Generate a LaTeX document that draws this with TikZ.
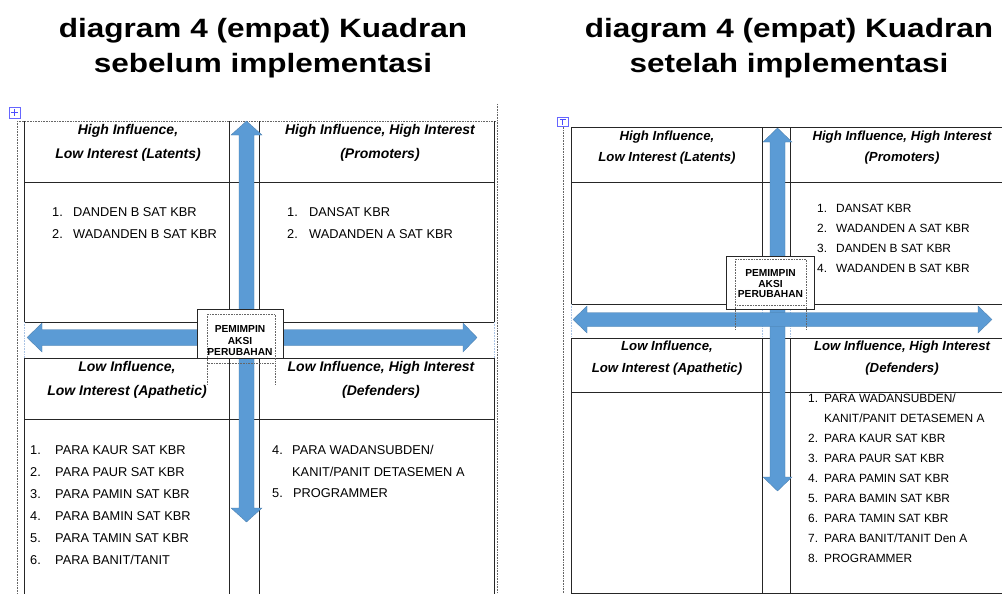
\documentclass[tikz,border=0pt]{standalone}
\usepackage{fontspec}
\setmainfont{Liberation Sans}
\definecolor{arrblue}{RGB}{91,155,213}
\definecolor{gridblue}{RGB}{170,195,228}

\begin{document}
\begin{tikzpicture}[x=1pt,y=-1pt,
    ttl/.style={anchor=base,inner sep=0pt,font=\fontsize{26.5}{30}\selectfont\bfseries},
    hdr/.style={anchor=base,inner sep=0pt,font=\fontsize{14}{16}\selectfont\bfseries\itshape},
    hdrs/.style={anchor=base,inner sep=0pt,font=\fontsize{13.2}{15}\selectfont\bfseries\itshape},
    lst/.style={anchor=base west,inner sep=0pt,font=\fontsize{12.8}{14}\selectfont},
    lsts/.style={anchor=base west,inner sep=0pt,font=\fontsize{11.9}{13}\selectfont},
    ctr/.style={align=center,inner sep=0pt,font=\fontsize{10.2}{11.5}\selectfont\bfseries},
    tbl/.style={line width=1pt,black!85},
    guide/.style={line width=0.7pt,black!60,dash pattern=on 0.7pt off 0.9pt},
    faint/.style={line width=0.7pt,gridblue,dash pattern=on 0.7pt off 0.9pt},
    blk/.style={fill=arrblue,draw=arrblue!80!black,line width=0.3pt}]

  \useasboundingbox (0,0) rectangle (1002,594);
  \fill[white] (0,0) rectangle (1002,594);

  % titles
  \node[ttl] (ttlA1) at (263,38) {\scalebox{1.19}[1]{diagram 4 (empat) Kuadran}};
  \node[ttl] (ttlA2) at (263,73) {\scalebox{1.19}[1]{sebelum implementasi}};
  \node[ttl] (ttlB1) at (789,38) {\scalebox{1.19}[1]{diagram 4 (empat) Kuadran}};
  \node[ttl] (ttlB2) at (789,73) {\scalebox{1.19}[1]{setelah implementasi}};

  % left table: sebelum
  \draw[guide] (17,121) -- (17,594);
  \draw[guide] (497,104) -- (497,594);
  \draw[guide] (17,121) -- (497,121);
  \draw[draw=blue!60,fill=white,line width=0.5pt] (9,107) rectangle (20,118);
  \draw[blue!70,line width=0.6pt] (11,112.5) -- (18,112.5);
  \draw[blue!70,line width=0.6pt] (14.5,109) -- (14.5,116);

  \draw[tbl] (24,121) -- (24,322);
  \draw[tbl] (229,121) -- (229,322);
  \draw[tbl] (259,121) -- (259,322);
  \draw[tbl] (494,121) -- (494,322);
  \draw[tbl] (24,182) -- (494,182);
  \draw[tbl] (24,322) -- (494,322);
  \draw[faint] (24,322) -- (24,358);
  \draw[faint] (494,322) -- (494,358);

  \draw[tbl] (24,358) -- (494,358);
  \draw[tbl] (24,419) -- (494,419);
  \draw[tbl] (24,358) -- (24,594);
  \draw[tbl] (229,358) -- (229,594);
  \draw[tbl] (259,358) -- (259,594);
  \draw[tbl] (494,358) -- (494,594);

  \node[hdr] (hA1) at (128,134) {High Influence,};
  \node[hdr] (hA2) at (128,158) {Low Interest (Latents)};
  \node[hdr] (hA3) at (380,134) {High Influence, High Interest};
  \node[hdr] (hA4) at (380,158) {(Promoters)};
  \node[hdr] (hA5) at (127,371) {Low Influence,};
  \node[hdr] (hA6) at (127,395) {Low Interest (Apathetic)};
  \node[hdr] (hA7) at (381,371) {Low Influence, High Interest};
  \node[hdr] (hA8) at (381,395) {(Defenders)};

  \node[lst] (nA1) at (52,216) {1.};
  \node[lst] (tA1) at (73,216) {DANDEN B SAT KBR};
  \node[lst] (nA2) at (52,238) {2.};
  \node[lst] (tA2) at (73,238) {WADANDEN B SAT KBR};

  \node[lst] (nB1) at (287,216) {1.};
  \node[lst] (tB1) at (309,216) {DANSAT KBR};
  \node[lst] (nB2) at (287,238) {2.};
  \node[lst] (tB2) at (309,238) {WADANDEN A SAT KBR};

  \node[lst] (nC1) at (30,454) {1.};
  \node[lst] (tC1) at (55,454) {PARA KAUR SAT KBR};
  \node[lst] (nC2) at (30,476) {2.};
  \node[lst] (tC2) at (55,476) {PARA PAUR SAT KBR};
  \node[lst] (nC3) at (30,498) {3.};
  \node[lst] (tC3) at (55,498) {PARA PAMIN SAT KBR};
  \node[lst] (nC4) at (30,520) {4.};
  \node[lst] (tC4) at (55,520) {PARA BAMIN SAT KBR};
  \node[lst] (nC5) at (30,542) {5.};
  \node[lst] (tC5) at (55,542) {PARA TAMIN SAT KBR};
  \node[lst] (nC6) at (30,564) {6.};
  \node[lst] (tC6) at (55,564) {PARA BANIT/TANIT};

  \node[lst] (nD1) at (272,454) {4.};
  \node[lst] (tD1) at (292,454) {PARA WADANSUBDEN/};
  \node[lst] (tD2) at (292,476) {KANIT/PANIT DETASEMEN A};
  \node[lst] (nD3) at (272,497) {5.};
  \node[lst] (tD3) at (293,497) {PROGRAMMER};

  % left arrows
  \draw[blk] (27,337.5) -- (42,323) -- (42,329.5) -- (463,329.5) -- (463,323) -- (477,337.5)
    -- (463,352) -- (463,345.5) -- (42,345.5) -- (42,352) -- cycle;
  \draw[blk] (246.5,121) -- (262,135) -- (254,135) -- (254,508) -- (262,508) -- (246.5,522)
    -- (231,508) -- (239,508) -- (239,135) -- (231,135) -- cycle;

  \draw[tbl,fill=white] (197,309) rectangle (283,358);
  \draw[guide] (207,314) rectangle (275,363);
  \draw[guide] (207,363) -- (207,385);
  \draw[guide] (275,363) -- (275,385);
  \node[ctr] (pA) at (240,341) {PEMIMPIN\\AKSI\\PERUBAHAN};

  % right table: setelah
  \draw[guide] (563,122) -- (563,594);
  \draw[draw=blue!60,fill=white,line width=0.5pt] (557,117) rectangle (568,126);
  \draw[blue!70,line width=0.6pt] (559.5,119.5) -- (565.5,119.5);
  \draw[blue!70,line width=0.6pt] (562.5,119.5) -- (562.5,124.5);

  \draw[tbl] (571,127) -- (1002,127);
  \draw[tbl] (571,182) -- (1002,182);
  \draw[tbl] (571,304) -- (1002,304);
  \draw[tbl] (571,127) -- (571,304);
  \draw[tbl] (762,127) -- (762,304);
  \draw[tbl] (790,127) -- (790,304);
  \draw[faint] (571,304) -- (571,338);
  \draw[faint] (762,304) -- (762,338);
  \draw[faint] (790,304) -- (790,338);

  \draw[tbl] (571,338) -- (1002,338);
  \draw[tbl] (571,392) -- (1002,392);
  \draw[tbl] (571,593) -- (1002,593);
  \draw[tbl] (571,338) -- (571,593);
  \draw[tbl] (762,338) -- (762,593);
  \draw[tbl] (790,338) -- (790,593);

  \node[hdrs] (hB1) at (667,140) {High Influence,};
  \node[hdrs] (hB2) at (667,161) {Low Interest (Latents)};
  \node[hdrs] (hB3) at (902,140) {High Influence, High Interest};
  \node[hdrs] (hB4) at (902,161) {(Promoters)};
  \node[hdrs] (hB5) at (667,350) {Low Influence,};
  \node[hdrs] (hB6) at (667,372) {Low Interest (Apathetic)};
  \node[hdrs] (hB7) at (902,350) {Low Influence, High Interest};
  \node[hdrs] (hB8) at (902,372) {(Defenders)};

  \node[lsts] (nE1) at (817,212) {1.};
  \node[lsts] (tE1) at (836,212) {DANSAT KBR};
  \node[lsts] (nE2) at (817,232) {2.};
  \node[lsts] (tE2) at (836,232) {WADANDEN A SAT KBR};
  \node[lsts] (nE3) at (817,252) {3.};
  \node[lsts] (tE3) at (836,252) {DANDEN B SAT KBR};
  \node[lsts] (nE4) at (817,272) {4.};
  \node[lsts] (tE4) at (836,272) {WADANDEN B SAT KBR};

  \node[lsts] (nF1) at (808,402) {1.};
  \node[lsts] (tF1) at (824,402) {PARA WADANSUBDEN/};
  \node[lsts] (tF2) at (824,422) {KANIT/PANIT DETASEMEN A};
  \node[lsts] (nF3) at (808,442) {2.};
  \node[lsts] (tF3) at (824,442) {PARA KAUR SAT KBR};
  \node[lsts] (nF4) at (808,462) {3.};
  \node[lsts] (tF4) at (824,462) {PARA PAUR SAT KBR};
  \node[lsts] (nF5) at (808,482) {4.};
  \node[lsts] (tF5) at (824,482) {PARA PAMIN SAT KBR};
  \node[lsts] (nF6) at (808,502) {5.};
  \node[lsts] (tF6) at (824,502) {PARA BAMIN SAT KBR};
  \node[lsts] (nF7) at (808,522) {6.};
  \node[lsts] (tF7) at (824,522) {PARA TAMIN SAT KBR};
  \node[lsts] (nF8) at (808,542) {7.};
  \node[lsts] (tF8) at (824,542) {PARA BANIT/TANIT Den A};
  \node[lsts] (nF9) at (808,562) {8.};
  \node[lsts] (tF9) at (824,562) {PROGRAMMER};

  % right arrows
  \draw[blk] (777.5,128) -- (792,142) -- (785,142) -- (785,477) -- (792,477) -- (777.5,491)
    -- (763,477) -- (770,477) -- (770,142) -- (763,142) -- cycle;
  \draw[blk] (573,319.5) -- (587,306) -- (587,312.5) -- (978,312.5) -- (978,306) -- (992,319.5)
    -- (978,333) -- (978,326.5) -- (587,326.5) -- (587,333) -- cycle;

  \draw[tbl,fill=white] (726,256) rectangle (814,309);
  \draw[guide] (735,259) rectangle (806,305);
  \draw[guide] (735,305) -- (735,330);
  \draw[guide] (806,305) -- (806,330);
  \node[ctr,font=\fontsize{10.2}{10.5}\selectfont\bfseries] (pB) at (770.5,284) {PEMIMPIN\\AKSI\\PERUBAHAN};
\end{tikzpicture}
\end{document}
